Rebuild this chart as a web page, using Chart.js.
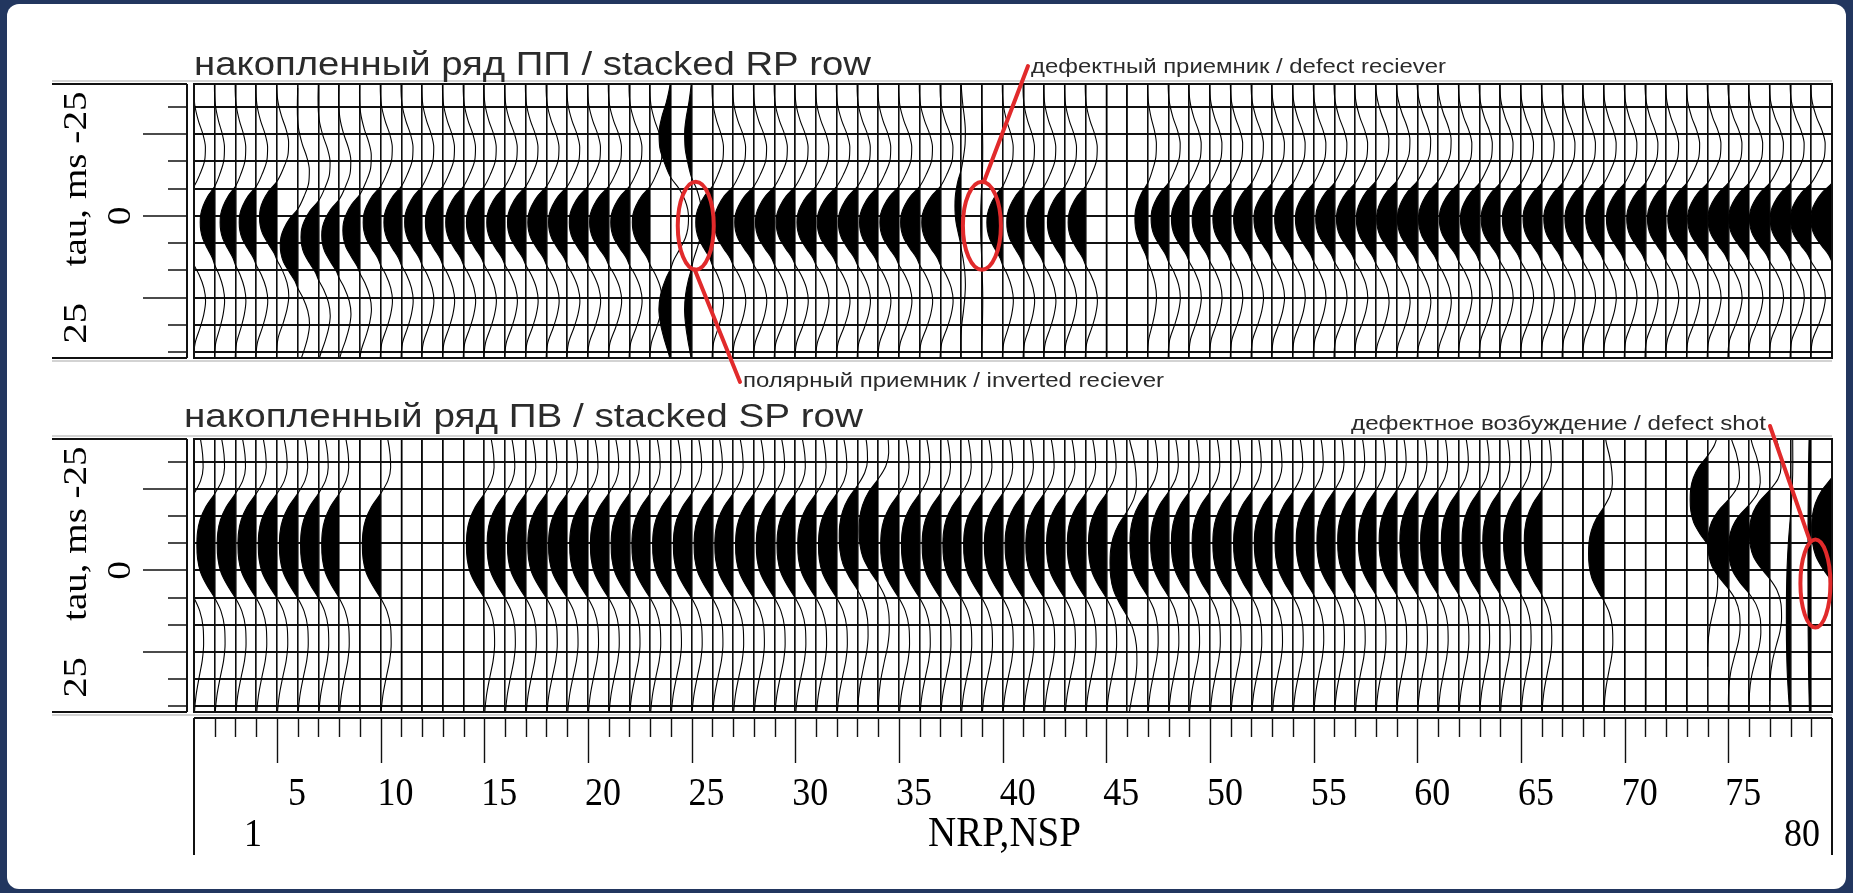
<!DOCTYPE html>
<html>
<head>
<meta charset="utf-8">
<script src="https://cdn.jsdelivr.net/npm/chart.js@4.4.1/dist/chart.umd.min.js"></script>
<style>
  html, body { margin: 0; padding: 0; width: 1853px; height: 893px; overflow: hidden; background: #22365f; }
  #sheet { position: absolute; left: 7px; top: 4px; width: 1839px; height: 885px; background: #fff; border-radius: 12px; }
  canvas { position: absolute; left: 0; top: 0; }
</style>
</head>
<body>
<div id="sheet"></div>
<canvas id="rpChart" width="1853" height="893"></canvas>
<canvas id="spChart" width="1853" height="893"></canvas>
<script>
// ---- trace numbers (NRP / NSP) and axis ticks ----
const traceNo = Array.from({ length: 80 }, (_, i) => i + 1);
const nrpMajor = [5, 10, 15, 20, 25, 30, 35, 40, 45, 50, 55, 60, 65, 70, 75];
const nrpEnds = ['1', '80'];
const tauGrid = [-33.33, -25, -16.67, -8.33, 0, 8.33, 16.67, 25, 33.33, 41.67];
const tauMajor = [-25, 0, 25];
const tauRange = [-40.25, 43.4];

// ---- stacked pulse shapes (relative time, ms / normalised amplitude) ----
const rpPulseTime = [-48, -42, -36, -31, -27, -23, -19, -15, -11, -8, -5, -2.5, 0, 2.5, 5, 8, 11, 13, 16, 20, 24, 28, 32, 37, 43, 50];
const rpPulseAmp  = [0, 0.02, -0.04, -0.26, -0.52, -0.67, -0.63, -0.37, 0, 0.48, 0.8, 0.96, 1.0, 0.96, 0.82, 0.5, 0.15, 0, -0.3, -0.58, -0.68, -0.58, -0.37, -0.06, 0.02, 0];
const spPulseTime = [-60, -50, -43, -38, -33, -28, -24, -20, -16, -12, -8, -4, 0, 4, 8, 12, 16, 20, 25, 30, 35, 40, 46, 52, 60];
const spPulseAmp  = [0, 0.02, -0.03, -0.15, -0.38, -0.52, -0.55, -0.4, 0, 0.5, 0.82, 0.97, 1.0, 0.96, 0.8, 0.45, 0, -0.35, -0.55, -0.58, -0.5, -0.32, -0.12, -0.02, 0];

// ---- stacked receiver-point row: amplitude (trace widths), peak time (ms), pulse stretch ----
const rpAmp = [
  0.82, 0.70, 0.74, 0.82, 0.84, 0.84, 0.84, 0.84, 0.82, 0.84,
  0.84, 0.84, 0.84, 0.86, 0.86, 0.88, 0.88, 0.90, 0.90, 0.90,
  0.92, 0.90, 0.86, -0.85, -0.50, 0.80, 0.90, 0.92, 0.92, 0.92,
  0.92, 0.94, 0.92, 0.90, 0.92, 0.92, 0.90, 0.30, 0.06, 0.76,
  0.80, 0.84, 0.84, 0.84, 0.00, 0.00, 0.62, 0.84, 0.86, 0.86,
  0.86, 0.86, 0.88, 0.88, 0.88, 0.90, 0.90, 0.94, 0.96, 0.96,
  0.94, 0.94, 0.92, 0.92, 0.90, 0.90, 0.90, 0.88, 0.88, 0.88,
  0.90, 0.90, 0.92, 0.96, 0.98, 0.98, 0.98, 0.98, 1.00, 1.02
];
const rpShift = [
  2, 2, 2, 2, 0.5, 9, 6.5, 6, 4.5, 2,
  2, 2, 2, 2, 2, 2, 2, 2, 2, 2,
  2, 2, 2, 1, 1, 2, 2, 2, 2, 2,
  2, 2, 2, 2, 2, 2, 2, -3, 2, 2,
  2, 2, 2, 2, 0, 0, 1, 1, 1, 1,
  1, 1, 1, 1, 1, 1, 1, 1, 1, 1,
  1, 1, 1, 1, 1, 1, 1, 1, 1, 1,
  1, 1, 1, 1, 1, 1, 1, 1, 1, 1
];
const rpStretch = [
  1, 1, 1, 1, 1, 1, 1, 1, 1, 1,
  1, 1, 1, 1, 1, 1, 1, 1, 1, 1,
  1, 1, 1, 1.15, 1.15, 1, 1, 1, 1, 1,
  1, 1, 1, 1, 1, 1, 1, 1, 1, 1,
  1, 1, 1, 1, 1, 1, 1, 1, 1, 1,
  1, 1, 1, 1, 1, 1, 1, 1.05, 1.05, 1.05,
  1.05, 1, 1, 1, 1, 1, 1, 1, 1, 1,
  1, 1, 1, 1, 1, 1, 1, 1, 1, 1
];

// ---- stacked shot-point row ----
const spAmp = [
  0.80, 0.86, 0.88, 0.88, 0.90, 0.88, 0.86, 0.84, 0.00, 0.88,
  0.00, 0.00, 0.00, 0.00, 0.86, 0.86, 0.88, 0.90, 0.90, 0.88,
  0.88, 0.88, 0.88, 0.88, 0.88, 0.88, 0.88, 0.88, 0.88, 0.88,
  0.88, 0.88, 0.88, 0.92, 0.88, 0.88, 0.88, 0.88, 0.88, 0.88,
  0.88, 0.88, 0.88, 0.88, 0.86, 0.82, 0.86, 0.86, 0.86, 0.86,
  0.86, 0.86, 0.86, 0.86, 0.84, 0.84, 0.84, 0.84, 0.84, 0.84,
  0.84, 0.84, 0.84, 0.84, 0.84, 0.84, 0.00, 0.00, 0.74, 0.00,
  0.00, 0.00, 0.00, 0.84, 0.98, 0.98, 0.98, 0.20, 0.16, 0.98
];
const spShift = [
  -7.5, -7.5, -7.5, -7.5, -7.5, -7.5, -7.5, -7.5, -7.5, -7.5,
  -7.5, -7.5, -7.5, -7.5, -7.5, -7.5, -7.5, -7.5, -7.5, -7.5,
  -7.5, -7.5, -7.5, -7.5, -7.5, -7.5, -7.5, -7.5, -7.5, -7.5,
  -7.5, -7.5, -10, -12, -7.5, -7.5, -7.5, -7.5, -7.5, -7.5,
  -7.5, -7.5, -7.5, -7.5, -7.5, -2, -8, -8, -8, -8,
  -8, -8, -8, -8, -8.5, -8.5, -8.5, -8.5, -8.5, -8.5,
  -8.5, -8.5, -8.5, -8.5, -8.5, -8.5, -8, -8, -5, -8,
  -8, -8, -8, -21.5, -8, -6.5, -11, 15, 0, -12.5
];
const spStretch = [
  1, 1, 1, 1, 1, 1, 1, 1, 1, 1,
  1, 1, 1, 1, 1, 1, 1, 1, 1, 1,
  1, 1, 1, 1, 1, 1, 1, 1, 1, 1,
  1, 1, 1, 1, 1, 1, 1, 1, 1, 1,
  1, 1, 1, 1, 1, 1, 1, 1, 1, 1,
  1, 1, 1, 1, 1, 1, 1, 1, 1, 1,
  1, 1, 1, 1, 1, 1, 1, 1, 0.9, 1,
  1, 1, 1, 0.85, 0.85, 0.85, 0.85, 2, 4, 1
];

// ---- panel titles and call-outs ----
const rpTitle = 'накопленный ряд ПП / stacked RP row';
const spTitle = 'накопленный ряд ПВ / stacked SP row';
const axisTitle = 'tau, ms';
const axisName = 'NRP,NSP';
const rpNotes = [
  { text: 'дефектный приемник / defect reciever', trace: 39, tau: 3 },
  { text: 'полярный приемник / inverted reciever', trace: 25.2, tau: 3 }
];
const spNotes = [
  { text: 'дефектное возбуждение / defect shot', trace: 79.2, tau: 4 }
];

const RED = '#e12a2b';
const INK = '#111';

function fitText(ctx, str, x, y, font, width, color, align, sy) {
  ctx.save();
  ctx.font = font;
  ctx.fillStyle = color || '#000';
  ctx.textBaseline = 'alphabetic';
  const w = ctx.measureText(str).width;
  ctx.translate(x, y);
  ctx.scale(width ? width / w : 1, sy || 1);
  ctx.textAlign = align || 'left';
  ctx.fillText(str, 0, 0);
  ctx.restore();
}

function rotText(ctx, str, cx, cy, font, stretch) {
  ctx.save();
  ctx.font = font;
  ctx.fillStyle = '#000';
  ctx.textAlign = 'center';
  ctx.textBaseline = 'middle';
  ctx.translate(cx, cy);
  ctx.rotate(-Math.PI / 2);
  ctx.scale(stretch || 1, 1);
  ctx.fillText(str, 0, 0);
  ctx.restore();
}

function ellipse(ctx, cx, cy, rx, ry) {
  ctx.beginPath();
  ctx.ellipse(cx, cy, rx, ry, 0, 0, Math.PI * 2);
  ctx.stroke();
}

// variable-area fill: lobes swinging to the left of each trace baseline are painted black
const varArea = {
  id: 'varArea',
  afterDatasetsDraw(chart) {
    const { ctx, chartArea: a, scales: { x } } = chart;
    chart.data.datasets.forEach((ds, i) => {
      const line = chart.getDatasetMeta(i).dataset;
      const pts = line && line.points;
      if (!pts || pts.length < 2) return;
      const base = x.getPixelForValue(ds.trace);
      if (base <= a.left + 0.5) return;
      const left = Math.max(a.left, base - 80);
      ctx.save();
      ctx.beginPath();
      ctx.rect(left, a.top, base - left, a.bottom - a.top);
      ctx.clip();
      ctx.beginPath();
      line.path(ctx);
      ctx.lineTo(base, pts[pts.length - 1].y);
      ctx.lineTo(base, pts[0].y);
      ctx.closePath();
      ctx.fillStyle = '#000';
      ctx.fill();
      ctx.restore();
    });
  }
};

// frame, tau axis box, title and call-outs of a panel
const panelDecor = {
  id: 'panelDecor',
  afterDraw(chart, args, o) {
    const { ctx, chartArea: a, scales: { x, y } } = chart;
    ctx.save();
    ctx.strokeStyle = INK;
    ctx.lineWidth = 2;
    ctx.strokeRect(a.left, a.top, a.right - a.left, a.bottom - a.top);
    ctx.strokeStyle = 'rgba(0,0,0,0.35)';
    ctx.lineWidth = 1;
    ctx.beginPath();
    ctx.moveTo(52, a.top - 3); ctx.lineTo(a.right, a.top - 3);
    ctx.moveTo(52, a.bottom + 3); ctx.lineTo(a.right, a.bottom + 3);
    ctx.stroke();

    // tau axis box
    ctx.strokeStyle = INK;
    ctx.lineWidth = 2;
    ctx.beginPath();
    ctx.moveTo(52, a.top); ctx.lineTo(187, a.top);
    ctx.moveTo(52, a.bottom); ctx.lineTo(187, a.bottom);
    ctx.moveTo(187, a.top); ctx.lineTo(187, a.bottom);
    ctx.stroke();
    ctx.lineWidth = 1.6;
    ctx.beginPath();
    tauGrid.forEach(v => {
      const py = Math.round(y.getPixelForValue(v));
      ctx.moveTo(tauMajor.includes(v) ? 143 : 168, py);
      ctx.lineTo(187, py);
    });
    ctx.stroke();

    const serif = '34px "Liberation Serif", "DejaVu Serif", serif';
    rotText(ctx, '-25', 77, y.getPixelForValue(-30), serif, 1.15);
    rotText(ctx, axisTitle, 77, y.getPixelForValue(-1.8), serif, 1.15);
    rotText(ctx, '25', 77, y.getPixelForValue(32.8), serif, 1.2);
    rotText(ctx, '0', 121, y.getPixelForValue(0), serif, 1.1);

    // title
    fitText(ctx, o.title, o.titleX, o.titleY, '34px "Liberation Sans", Arial, sans-serif', o.titleW, '#2b2b2b');

    // call-outs
    o.notes.forEach((n, k) => {
      const cfg = o.noteLayout[k];
      const cx = x.getPixelForValue(n.trace);
      const cy = y.getPixelForValue(n.tau);
      fitText(ctx, n.text, cfg.tx, cfg.ty, '21px "Liberation Sans", Arial, sans-serif', cfg.tw, '#2b2b2b');
      ctx.strokeStyle = RED;
      ctx.lineWidth = 4;
      ellipse(ctx, cx, cy, cfg.rx, cfg.ry);
      ctx.lineCap = 'round';
      ctx.beginPath();
      ctx.moveTo(cfg.lx, cfg.ly);
      ctx.lineTo(cx + cfg.dx, cfg.side === 'top' ? cy - cfg.ry : cy + cfg.ry);
      ctx.stroke();
    });
    ctx.restore();
  }
};

// NRP/NSP axis drawn under the lower panel
const nrpAxis = {
  id: 'nrpAxis',
  afterDraw(chart) {
    const { ctx, chartArea: a, scales: { x } } = chart;
    const top = 718, bottom = 855;
    ctx.save();
    ctx.strokeStyle = INK;
    ctx.lineWidth = 2;
    ctx.beginPath();
    ctx.moveTo(a.left, top); ctx.lineTo(a.right, top);
    ctx.moveTo(a.left, top); ctx.lineTo(a.left, bottom);
    ctx.moveTo(a.right, top); ctx.lineTo(a.right, bottom);
    ctx.stroke();
    ctx.lineWidth = 1.4;
    ctx.beginPath();
    traceNo.forEach(v => {
      if (v === 1 || v === 80) return;
      const px = Math.round(x.getPixelForValue(v)) + 0.5;
      ctx.moveTo(px, top);
      ctx.lineTo(px, top + (nrpMajor.includes(v) ? 45 : 19));
    });
    ctx.stroke();
    const serif = '36px "Liberation Serif", "DejaVu Serif", serif';
    nrpMajor.forEach(v => {
      const shift = v < 10 ? 20 : 15;
      fitText(ctx, String(v), x.getPixelForValue(v) + shift, 805, serif, 0, '#000', 'center', 1.12);
    });
    fitText(ctx, nrpEnds[0], x.getPixelForValue(1) + 59, 846, serif, 0, '#000', 'center', 1.12);
    fitText(ctx, nrpEnds[1], a.right - 12, 846, serif, 0, '#000', 'right', 1.12);
    fitText(ctx, axisName, 928, 846, '38px "Liberation Serif", "DejaVu Serif", serif', 153, '#000', 'left', 1.1);
    ctx.restore();
  }
};

function panel(canvasId, area, amp, shift, stretch, pulseTime, pulseAmp, decor, extra) {
  const datasets = traceNo.map((tr, i) => ({
    trace: tr,
    data: pulseTime.map((t, j) => ({ x: tr - amp[i] * pulseAmp[j], y: shift[i] + t * stretch[i] })),
    borderColor: '#000',
    borderWidth: 1.1,
    pointRadius: 0,
    fill: false,
    cubicInterpolationMode: 'monotone'
  }));
  return new Chart(document.getElementById(canvasId), {
    type: 'line',
    data: { datasets },
    options: {
      responsive: false,
      animation: false,
      events: [],
      indexAxis: 'y',
      layout: { padding: { left: area.left, top: area.top, right: 1853 - area.right, bottom: 893 - area.bottom } },
      plugins: { legend: { display: false }, tooltip: { enabled: false }, title: { display: false }, panelDecor: decor },
      scales: {
        x: {
          type: 'linear', min: 1, max: 80,
          afterBuildTicks: s => { s.ticks = traceNo.map(v => ({ value: v })); },
          ticks: { display: false },
          grid: { color: INK, lineWidth: 1.6, drawTicks: false },
          border: { display: false }
        },
        y: {
          type: 'linear', min: tauRange[0], max: tauRange[1], reverse: true,
          afterBuildTicks: s => { s.ticks = tauGrid.map(v => ({ value: v })); },
          ticks: { display: false },
          grid: { color: INK, lineWidth: 2, drawTicks: false },
          border: { display: false }
        }
      }
    },
    plugins: [varArea, panelDecor].concat(extra || [])
  });
}

panel('rpChart', { left: 194, right: 1832, top: 84, bottom: 358 }, rpAmp, rpShift, rpStretch, rpPulseTime, rpPulseAmp, {
  title: rpTitle, titleX: 194, titleY: 75, titleW: 677,
  notes: rpNotes,
  noteLayout: [
    { tx: 1031, ty: 73, tw: 415, rx: 19, ry: 44, lx: 1028, ly: 66, dx: 2, side: 'top' },
    { tx: 743, ty: 387, tw: 421, rx: 18, ry: 44, lx: 740, ly: 382, dx: -1, side: 'bottom' }
  ]
});

panel('spChart', { left: 194, right: 1832, top: 439, bottom: 712 }, spAmp, spShift, spStretch, spPulseTime, spPulseAmp, {
  title: spTitle, titleX: 184, titleY: 427, titleW: 679,
  notes: spNotes,
  noteLayout: [
    { tx: 1351, ty: 430, tw: 415, rx: 15, ry: 44, lx: 1770, ly: 426, dx: -6, side: 'top' }
  ]
}, [nrpAxis]);
</script>
</body>
</html>
